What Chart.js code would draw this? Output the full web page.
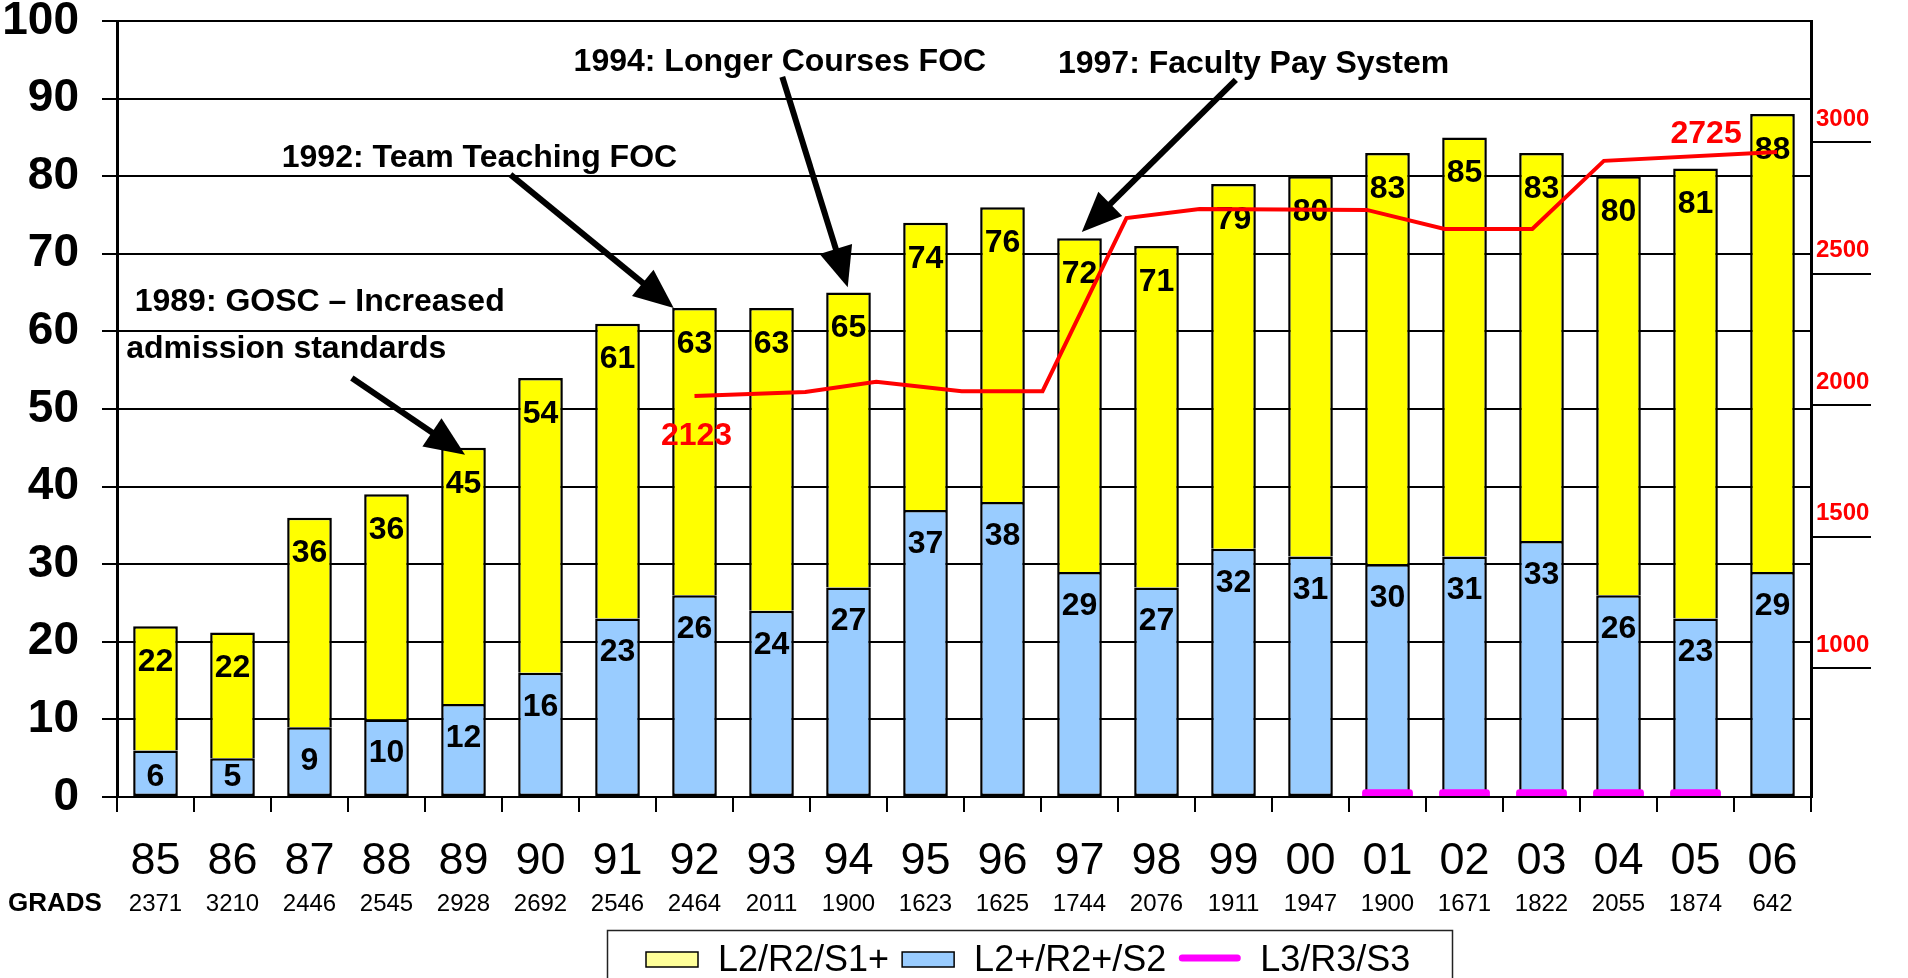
<!DOCTYPE html>
<html><head><meta charset="utf-8">
<script src="https://cdn.jsdelivr.net/npm/chart.js@4.4.1/dist/chart.umd.min.js"></script>
<style>html,body{margin:0;padding:0;background:#fff;}canvas{display:block;}</style>
</head><body>
<canvas id="c" width="1908" height="978"></canvas>
<script>
// ---------- data ----------
const categories = ['85','86','87','88','89','90','91','92','93','94','95','96','97','98','99','00','01','02','03','04','05','06'];
const grads = [2371,3210,2446,2545,2928,2692,2546,2464,2011,1900,1623,1625,1744,2076,1911,1947,1900,1671,1822,2055,1874,642];
const totalHeights = [22,21.2,36,39,45,54,61,63,63,65,74,76,72,71,79,80,83,85,83,80,81,88];
const totalLabels = [22,22,36,36,45,54,61,63,63,65,74,76,72,71,79,80,83,85,83,80,81,88];
const blueValues = [6,5,9,10,12,16,23,26,24,27,37,38,29,27,32,31,30,31,33,26,23,29];
const l3Values = [null,null,null,null,null,null,null,null,null,null,null,null,null,null,null,null,1.0,1.0,1.0,1.0,1.0,null];
const lineX = [7.0,8.44,9.36,10.47,11.52,12.61,13.56,15.73,16.74,17.88,18.81,21.06];
const lineY = [2123,2133,2158,2135,2135,2562,2584,2582,2535,2535,2703,2725];
const rightTicks = [1000,1500,2000,2500,3000];
const seriesNames = ['L2/R2/S1+','L2+/R2+/S2','L3/R3/S3'];
const notes = [
  {text:'1989: GOSC \u2013 Increased', x:-0.27, y:62.6},
  {text:'admission standards', x:-0.38, y:56.6},
  {text:'1992: Team Teaching FOC', x:1.64, y:81.2},
  {text:'1994: Longer Courses FOC', x:5.43, y:93.6},
  {text:'1997: Faculty Pay System', x:11.72, y:93.3}
];
const arrows = [
  {x1:2.55, y1:54.0, x2:4.02, y2:44.1},
  {x1:4.61, y1:80.2, x2:6.73, y2:63.0},
  {x1:8.14, y1:92.8, x2:8.99, y2:65.7},
  {x1:14.03, y1:92.4, x2:12.03, y2:72.8}
];

const FONT = "'Liberation Sans', Arial, Helvetica, sans-serif";
Chart.defaults.font.family = FONT;

// floating segments built from the read values
const blueBars = blueValues.map(b=>[0,b]);
const yellowBars = totalHeights.map((t,i)=>[blueValues[i], t]);

// ---------- plugins ----------
const barLabels = {
  id:'barLabels',
  afterDatasetDraw(chart, args){
    if(args.index !== 0) return;
    const ctx = chart.ctx;
    const mB = chart.getDatasetMeta(1), mY = chart.getDatasetMeta(2);
    ctx.save();
    ctx.font = `bold 32px ${FONT}`;
    ctx.fillStyle = '#000';
    ctx.textAlign = 'center';
    ctx.textBaseline = 'middle';
    mY.data.forEach((el,i)=>{ ctx.fillText(String(totalLabels[i]), el.x, el.y + 36); });
    mB.data.forEach((el,i)=>{ const y = Math.min(el.y + 34, el.base - 19); ctx.fillText(String(blueValues[i]), el.x, y); });
    ctx.restore();
  }
};

function drawArrow(ctx,x1,y1,x2,y2){
  const a = Math.atan2(y2-y1,x2-x1), L = 40, W = 17;
  const bx = x2 - L*Math.cos(a), by = y2 - L*Math.sin(a);
  ctx.lineWidth = 6; ctx.strokeStyle = '#000'; ctx.fillStyle = '#000';
  ctx.beginPath(); ctx.moveTo(x1,y1); ctx.lineTo(bx + 2*Math.cos(a), by + 2*Math.sin(a)); ctx.stroke();
  ctx.beginPath(); ctx.moveTo(x2,y2);
  ctx.lineTo(bx + W*Math.sin(a), by - W*Math.cos(a));
  ctx.lineTo(bx - W*Math.sin(a), by + W*Math.cos(a));
  ctx.closePath(); ctx.fill();
}

const extras = {
  id:'extras',
  afterDraw(chart){
    const ctx = chart.ctx, xs = chart.scales.xl, ys = chart.scales.y, xc = chart.scales.x;
    ctx.save();
    // annotations
    ctx.font = `bold 32px ${FONT}`;
    ctx.fillStyle = '#000';
    ctx.textAlign = 'left';
    ctx.textBaseline = 'alphabetic';
    notes.forEach(n=>ctx.fillText(n.text, xs.getPixelForValue(n.x), ys.getPixelForValue(n.y)));
    arrows.forEach(a=>drawArrow(ctx, xs.getPixelForValue(a.x1), ys.getPixelForValue(a.y1), xs.getPixelForValue(a.x2), ys.getPixelForValue(a.y2)));
    // line end labels
    const m = chart.getDatasetMeta(3);
    const p0 = m.data[0], pN = m.data[m.data.length-1];
    ctx.font = `bold 32px ${FONT}`;
    ctx.fillStyle = '#FF0000';
    ctx.textAlign = 'center';
    ctx.textBaseline = 'middle';
    ctx.fillText(String(lineY[0]), p0.x + 2, p0.y + 40);
    ctx.fillText(String(lineY[lineY.length-1]), pN.x - 71, pN.y - 18);
    // GRADS row
    ctx.fillStyle = '#000';
    ctx.textBaseline = 'alphabetic';
    ctx.textAlign = 'left';
    ctx.font = `bold 26px ${FONT}`;
    ctx.fillText('GRADS', 8, 911);
    ctx.textAlign = 'center';
    ctx.font = `24px ${FONT}`;
    grads.forEach((g,i)=>ctx.fillText(String(g), xc.getPixelForValue(i), 911));
    // legend
    ctx.lineWidth = 1.5; ctx.strokeStyle = '#222';
    ctx.strokeRect(607.5, 930.5, 845, 60);
    ctx.font = `36px ${FONT}`;
    ctx.textAlign = 'left';
    ctx.textBaseline = 'alphabetic';
    const sw = [
      {type:'box', color:'#FFFF99', text:seriesNames[0]},
      {type:'box', color:'#99CCFF', text:seriesNames[1]},
      {type:'line', color:'#FF00FF', text:seriesNames[2]}
    ];
    let x = 646;
    sw.forEach(s=>{
      if(s.type==='box'){
        ctx.fillStyle = s.color; ctx.fillRect(x, 952, 52, 15);
        ctx.lineWidth = 1.5; ctx.strokeStyle = '#000'; ctx.strokeRect(x, 952, 52, 15);
        x += 52;
      } else {
        ctx.strokeStyle = s.color; ctx.lineWidth = 7; ctx.lineCap = 'round';
        ctx.beginPath(); ctx.moveTo(x+3, 958); ctx.lineTo(x+58, 958); ctx.stroke();
        ctx.lineCap = 'butt';
        x += 61;
      }
      x += 20;
      ctx.fillStyle = '#000';
      ctx.fillText(s.text, x, 971);
      x += ctx.measureText(s.text).width + 13;
    });
    ctx.restore();
  }
};

// ---------- chart ----------
new Chart(document.getElementById('c'), {
  type:'bar',
  data:{
    labels: categories,
    datasets:[
      {type:'bar', label:seriesNames[2], data:l3Values, grouped:false, backgroundColor:'#FF00FF', borderWidth:0, borderRadius:4, barPercentage:0.66, categoryPercentage:1},
      {type:'bar', label:seriesNames[1], data:blueBars, grouped:false, backgroundColor:'#99CCFF', borderColor:'#000', borderWidth:2.5, borderSkipped:false, barPercentage:0.58, categoryPercentage:1},
      {type:'bar', label:seriesNames[0], data:yellowBars, grouped:false, backgroundColor:'#FFFF00', borderColor:'#000', borderWidth:2.5, borderSkipped:'start', barPercentage:0.58, categoryPercentage:1},
      {type:'line', label:'', data:lineX.map((x,i)=>({x:x, y:lineY[i]})), xAxisID:'xl', yAxisID:'yLine', borderColor:'#FF0000', borderWidth:4, pointRadius:0, fill:false, tension:0, order:-1}
    ]
  },
  options:{
    responsive:false,
    devicePixelRatio:1,
    animation:false,
    events:[],
    layout:{padding:{top:21, left:0, right:0, bottom:0}},
    plugins:{legend:{display:false}, tooltip:{enabled:false}},
    scales:{
      x:{
        offset:true,
        ticks:{font:{size:45}, color:'#000', padding:23, autoSkip:false, maxRotation:0, minRotation:0},
        grid:{drawOnChartArea:false, color:'#000', lineWidth:2, tickLength:15, offset:true},
        border:{display:true, color:'#000', width:2},
        afterFit:s=>{s.height=181; s.paddingLeft=0; s.paddingRight=0;}
      },
      xl:{type:'linear', display:false, offset:false, min:-0.5, max:21.5, grid:{offset:false}},
      y:{
        min:0, max:100,
        ticks:{stepSize:10, font:{size:46, weight:'bold'}, color:'#000', padding:23},
        grid:{color:'#000', lineWidth:2, tickLength:15},
        border:{display:true, color:'#000', width:3},
        afterFit:s=>{s.width=117; s.paddingTop=0; s.paddingBottom=0;}
      },
      y2:{
        position:'right', min:510, max:3460,
        afterBuildTicks:s=>{ s.ticks = rightTicks.map(v=>({value:v})); },
        ticks:{color:'#FF0000', font:{size:24, weight:'bold'}, padding:-55, labelOffset:-23, callback:v=>String(v)},
        grid:{drawOnChartArea:false, color:'#000', lineWidth:2, tickLength:60},
        border:{display:true, color:'#000', width:3},
        afterFit:s=>{s.width=97; s.paddingTop=0; s.paddingBottom=0;}
      },
      yLine:{display:false, position:'right', min:1134, max:3048}
    }
  },
  plugins:[barLabels, extras]
});
</script>
</body></html>
